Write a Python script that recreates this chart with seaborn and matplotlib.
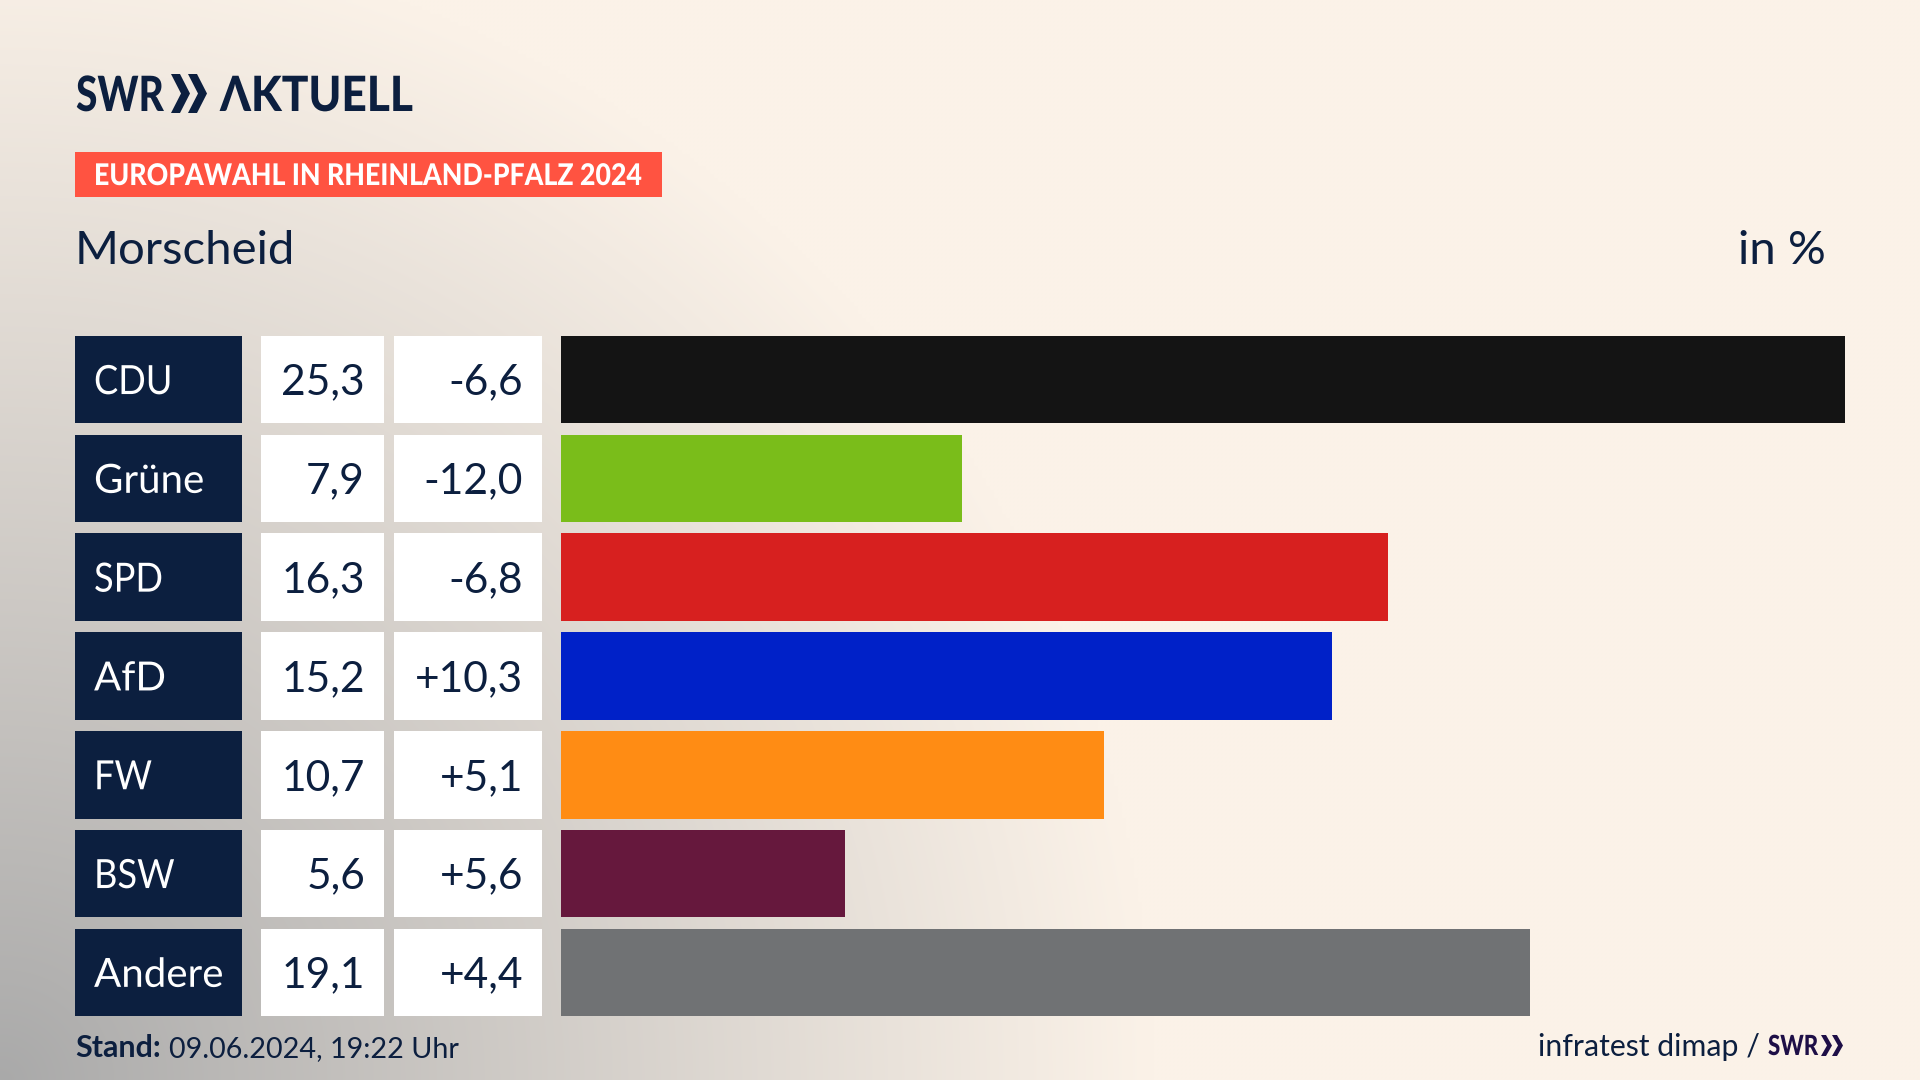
import numpy as np
import pandas as pd
import matplotlib
matplotlib.use("Agg")
import matplotlib.pyplot as plt
from matplotlib.colors import to_rgb
from matplotlib.patches import Rectangle, Polygon
from matplotlib.patheffects import AbstractPathEffect
from matplotlib.transforms import Affine2D
import seaborn as sns

parties = ["CDU", "Grüne", "SPD", "AfD", "FW", "BSW", "Andere"]
shares = [25.3, 7.9, 16.3, 15.2, 10.7, 5.6, 19.1]
changes = [-6.6, -12.0, -6.8, 10.3, 5.1, 5.6, 4.4]
bar_colors = ["#141414", "#7ABD1A", "#D7201F", "#0021C8", "#FF8C14", "#66183D", "#707274"]

NAVY = "#0C1F3F"
RED = "#FF5341"
CREAM = np.array(to_rgb("#FBF2E8"))
GREY = np.array(to_rgb("#A9A9A9"))
W, H = 1920, 1080
FONT = ["Lato", "DejaVu Sans"]

sns.set_theme(style="white")
plt.rcParams["font.family"] = FONT


class Squeeze(AbstractPathEffect):
    """Condense a real text horizontally about its left anchor."""

    def __init__(self, x0, sx):
        super().__init__()
        self.x0, self.sx = x0, sx

    def draw_path(self, renderer, gc, tpath, affine, rgbFace=None):
        t = affine + Affine2D().translate(-self.x0, 0).scale(self.sx, 1).translate(self.x0, 0)
        renderer.draw_path(gc, tpath, t, rgbFace)


def de(v, sign=False):
    s = f"{v:+.1f}" if sign else f"{v:.1f}"
    return s.replace(".", ",")


df = pd.DataFrame({"party": parties, "share": shares})
fig = plt.figure(figsize=(W / 100, H / 100), dpi=100)

# pixel-space layer: background, table cells, texts
bg = fig.add_axes([0, 0, 1, 1])
yy, xx = np.mgrid[0:H:4, 0:W:4]
r = np.sqrt((xx / 1150.0) ** 2 + ((H - yy) / 1150.0) ** 2)
t = np.clip(r, 0, 1) ** 0.95
img = GREY[None, None, :] * (1 - t[..., None]) + CREAM[None, None, :] * t[..., None]
bg.imshow(img, extent=[0, W, H, 0], aspect="auto", interpolation="bilinear", zorder=0)
bg.set_xlim(0, W)
bg.set_ylim(H, 0)
bg.axis("off")


def squeezed(x, y, s, sx, va="baseline", **kw):
    txt = bg.text(x, y, s, va=va, ha="left", zorder=2, **kw)
    txt.set_path_effects([Squeeze(x, sx)])
    return txt


ROW_TOP, PITCH, ROW_H = 335.8, 98.8, 87.5
for i, party in enumerate(parties):
    top = ROW_TOP + i * PITCH
    mid = top + ROW_H / 2 - 0.5
    bg.add_patch(Rectangle((75, top), 167, ROW_H, fc=NAVY, ec="none", zorder=1))
    bg.add_patch(Rectangle((261, top), 123, ROW_H, fc="white", ec="none", zorder=1))
    bg.add_patch(Rectangle((394, top), 148, ROW_H, fc="white", ec="none", zorder=1))
    squeezed(94, mid, party, 0.9 if party.isupper() else 1.0, va="center_baseline",
             color="white", fontsize=29)
    bg.text(365, mid, de(shares[i]), color=NAVY, fontsize=30.6, va="center_baseline", ha="right", zorder=2)
    bg.text(523, mid, de(changes[i], sign=changes[i] > 0), color=NAVY, fontsize=30.6,
            va="center_baseline", ha="right", zorder=2)

# bars
ax = fig.add_axes([561 / W, 1 - (ROW_TOP + 7 * PITCH - (PITCH - ROW_H) / 2) / H,
                   1284 / W, 7 * PITCH / H])
ax.patch.set_alpha(0)
sns.barplot(data=df, x="share", y="party", hue="party", palette=bar_colors, order=parties,
            hue_order=parties, dodge=False, legend=False, saturation=1, width=ROW_H / PITCH,
            edgecolor="none", linewidth=0, ax=ax)
ax.set_xlim(0, max(shares))
ax.set_ylim(6.5, -0.5)
ax.axis("off")


def chevrons(xs, top, bottom, width, thick, color):
    mid = (top + bottom) / 2
    for x0 in xs:
        bg.add_patch(Polygon([(x0, top), (x0 + thick, top), (x0 + width, mid),
                              (x0 + thick, bottom), (x0, bottom), (x0 + width - thick, mid)],
                             fc=color, ec="none", zorder=2))


# logo
squeezed(76, 111, "SWR", 0.80, color=NAVY, fontsize=35, fontweight=900)
chevrons((171, 188), 74, 113, 19, 9, NAVY)
squeezed(220, 111, "ΛKTUELL", 0.91, color=NAVY, fontsize=35, fontweight=900)

# banner
bg.add_patch(Rectangle((75, 152), 587, 45, fc=RED, ec="none", zorder=1))
squeezed(94, 185, "EUROPAWAHL IN RHEINLAND-PFALZ 2024", 0.895, color="white", fontsize=21.5,
         fontweight=900)

# heading
bg.text(75, 264, "Morscheid", color=NAVY, fontsize=34, va="baseline", ha="left", zorder=2)
bg.text(1826, 264, "in %", color=NAVY, fontsize=34, va="baseline", ha="right", zorder=2)

# footer
bg.text(75, 1057, "Stand:", color=NAVY, fontsize=22, fontweight="bold", va="baseline", ha="left", zorder=2)
bg.text(169, 1057, "09.06.2024, 19:22 Uhr", color=NAVY, fontsize=20.7, va="baseline", ha="left", zorder=2)
bg.text(1760, 1056, "infratest dimap /", color=NAVY, fontsize=21.8, va="baseline", ha="right", zorder=2)
squeezed(1768, 1055, "SWR", 0.80, color="#1E0F47", fontsize=20, fontweight=900)
chevrons((1821, 1832), 1035, 1056, 11, 5, "#1E0F47")

fig.savefig("out.png", dpi=100)
